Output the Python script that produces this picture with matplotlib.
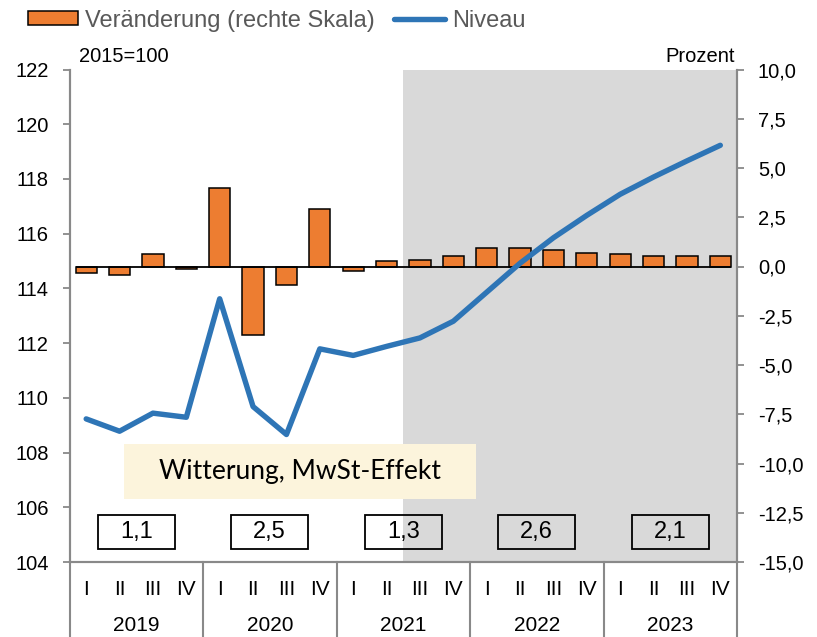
import matplotlib
matplotlib.use("Agg")
import matplotlib.pyplot as plt
import matplotlib.transforms as mtransforms
from matplotlib.patches import Rectangle, Patch
from matplotlib.lines import Line2D
import numpy as np

plt.rcParams['font.family'] = ['Liberation Sans', 'DejaVu Sans']

# ---- data ----
years = ["2019", "2020", "2021", "2022", "2023"]
quarters = ["I", "II", "III", "IV"]
niveau = [109.23, 108.78, 109.44, 109.29,
          113.62, 109.68, 108.66, 111.79,
          111.55, 111.88, 112.19, 112.80,
          113.86, 114.92, 115.85, 116.67,
          117.44, 118.07, 118.66, 119.23]
veraenderung = [-0.35, -0.44, 0.63, -0.15,
                4.00, -3.47, -0.95, 2.91,
                -0.22, 0.27, 0.34, 0.51,
                0.94, 0.94, 0.82, 0.70,
                0.65, 0.51, 0.51, 0.51]
annual = ["1,1", "2,5", "1,3", "2,6", "2,1"]
left_ticks = [104, 106, 108, 110, 112, 114, 116, 118, 120, 122]
right_ticks = [-15.0, -12.5, -10.0, -7.5, -5.0, -2.5, 0.0, 2.5, 5.0, 7.5, 10.0]
forecast_start = 10  # 2021 III
note_text = "Witterung, MwSt-Effekt"

ORANGE = "#ED7D31"
BLUE = "#2E75B6"
GRAY = "#898989"
SHADE = "#D9D9D9"

n = len(niveau)
x = np.arange(n)

fig = plt.figure(figsize=(8.17, 6.37), dpi=100)
ax = fig.add_axes([69.5/817, 1-562/637, (737-69.5)/817, (562-69.5)/637])
ax2 = ax.twinx()
ax.set_zorder(ax2.get_zorder() + 1)
ax.patch.set_visible(False)

# shading (forecast)
ax2.axvspan(forecast_start - 0.5, n - 0.5, color=SHADE, lw=0, zorder=0)

# bars on right axis
ax2.bar(x, veraenderung, width=0.64, color=ORANGE, edgecolor="black", linewidth=1.1, zorder=2)
ax2.hlines(0, -0.32, n - 1 + 0.32, color="black", lw=1.3, zorder=3)

# line on left axis
ax.plot(x, niveau, color=BLUE, lw=3.9, solid_joinstyle="round", solid_capstyle="round", zorder=5)

ax.set_xlim(-0.5, n - 0.5)
ax.set_ylim(104, 122)
ax2.set_ylim(-15, 10)

ax.set_yticks(left_ticks)
ax.set_yticklabels([str(v) for v in left_ticks])
ax2.set_yticks(right_ticks)
ax2.set_yticklabels([f"{v:.1f}".replace(".", ",") for v in right_ticks])

for a in (ax, ax2):
    a.spines['top'].set_visible(False)
    for s in ('left', 'right', 'bottom'):
        a.spines[s].set_color(GRAY)
        a.spines[s].set_linewidth(1.5)
ax.tick_params(axis='y', direction='out', length=5, width=1.3, color=GRAY, labelsize=14.5, pad=10)
ax2.tick_params(axis='y', direction='out', length=5, width=1.3, color=GRAY, labelsize=14.5, pad=10)

# x axis: quarters and years
ax.set_xticks(x)
ax.set_xticklabels(quarters * len(years), fontsize=15)
ax.tick_params(axis='x', length=0, pad=13)
ax2.tick_params(axis='x', length=0)

trans = mtransforms.blended_transform_factory(ax.transData, ax.transAxes)
for i, yr in enumerate(years):
    ax.text(4 * i + 1.5, -0.128, yr, transform=trans, ha='center', va='center', fontsize=15)
for k in range(len(years) + 1):
    ax.plot([4 * k - 0.5, 4 * k - 0.5], [0, -0.16], transform=trans, color=GRAY,
            lw=1.5, clip_on=False, zorder=6)

# annual boxes
for i, val in enumerate(annual):
    cx = 4 * i + 1.5
    ax.add_patch(Rectangle((cx - 1.15, 104.46), 2.3, 1.26, facecolor='none',
                           edgecolor='black', lw=1.3, zorder=7))
    ax.text(cx, 104.46 + 0.63, val, ha='center', va='center', fontsize=17, zorder=8)

# note box
ax.add_patch(Rectangle((1.12, 106.3), 10.57, 2.0, facecolor="#FCF4DC", edgecolor='none', zorder=7))
ax.text(1.12 + 10.57 / 2, 107.3, note_text, ha='center', va='center', fontsize=19,
        family=['Lato', 'DejaVu Sans'], zorder=8)

# axis unit labels
fig.text(79/817, 1-62/637, "2015=100", fontsize=14.5, ha='left', va='baseline')
fig.text(735/817, 1-62/637, "Prozent", fontsize=14.5, ha='right', va='baseline')

# legend
handles = [Patch(facecolor=ORANGE, edgecolor='black', lw=1.1),
           Line2D([0], [0], color=BLUE, lw=3.9, solid_capstyle='round')]
fig.legend(handles, ["Veränderung (rechte Skala)", "Niveau"], loc='upper left',
           bbox_to_anchor=(11/817, 1.011), ncol=2, frameon=False, fontsize=17,
           handlelength=2.15, handleheight=0.55, handletextpad=0.3, columnspacing=0.8,
           borderpad=0.2, labelcolor="#595959")

fig.savefig("out.png", dpi=100)
